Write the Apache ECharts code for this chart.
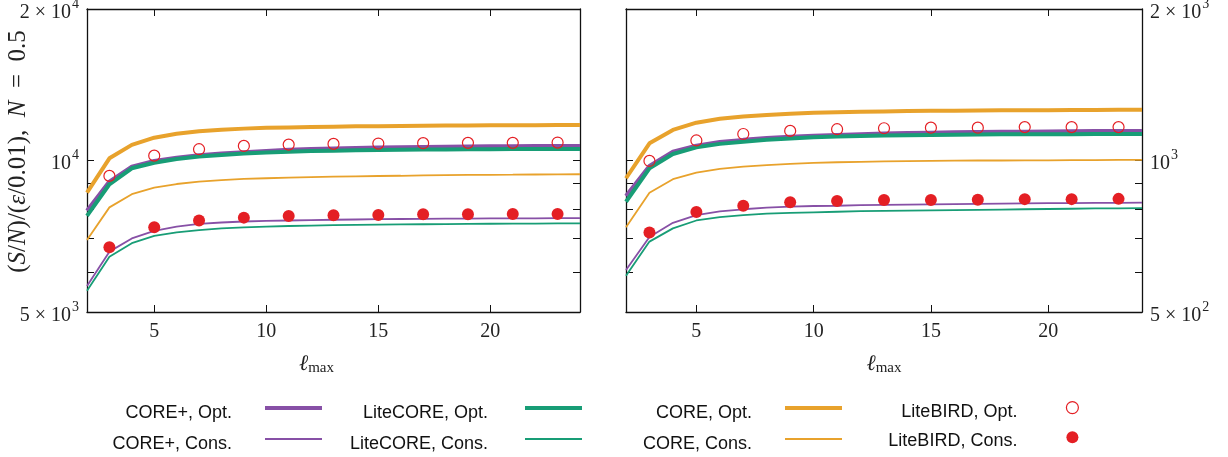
<!DOCTYPE html>
<html>
<head>
<meta charset="utf-8">
<script src="https://cdn.jsdelivr.net/npm/echarts@6/dist/echarts.min.js"></script>
<style>
html, body { margin: 0; padding: 0; background: #fff; }
#chart { width: 1228px; height: 457px; }
</style>
</head>
<body>
<div id="chart"></div>
<script>
// l_max values for the curves and for the LiteBIRD points
var lmax = [2, 3, 4, 5, 6, 7, 8, 9, 10, 11, 12, 13, 14, 15, 16, 17, 18, 19, 20, 21, 22, 23, 24];
var lmaxBird = [3, 5, 7, 9, 11, 13, 15, 17, 19, 21, 23];

// left panel
var corePlusOptL = [7950, 9080, 9720, 9980, 10130, 10240, 10320, 10390, 10450, 10500, 10540, 10570, 10590, 10610, 10625, 10640, 10650, 10660, 10670, 10675, 10680, 10685, 10690];
var corePlusConsL = [5630, 6590, 7000, 7250, 7390, 7480, 7530, 7565, 7585, 7600, 7615, 7625, 7635, 7645, 7652, 7658, 7664, 7668, 7672, 7675, 7677, 7679, 7680];
var liteCoreOptL = [7760, 8970, 9650, 9900, 10070, 10180, 10260, 10320, 10370, 10410, 10440, 10460, 10480, 10495, 10505, 10515, 10520, 10525, 10530, 10535, 10540, 10542, 10545];
var liteCoreConsL = [5510, 6440, 6850, 7080, 7200, 7275, 7330, 7365, 7390, 7410, 7425, 7437, 7447, 7456, 7464, 7470, 7476, 7482, 7487, 7491, 7494, 7497, 7500];
var coreOptL = [8630, 10100, 10740, 11100, 11300, 11430, 11510, 11570, 11610, 11630, 11650, 11670, 11690, 11700, 11710, 11720, 11730, 11740, 11745, 11750, 11755, 11760, 11765];
var coreConsL = [6950, 8070, 8570, 8830, 8980, 9080, 9140, 9190, 9220, 9245, 9265, 9285, 9300, 9315, 9325, 9340, 9350, 9360, 9365, 9372, 9380, 9385, 9390];
var birdOptL = [9320, 10225, 10530, 10690, 10755, 10790, 10805, 10825, 10840, 10840, 10855];
var birdConsL = [6724, 7370, 7596, 7700, 7760, 7785, 7797, 7822, 7822, 7832, 7832];

// right panel
var corePlusOptR = [850, 975, 1041, 1070, 1088, 1099, 1108, 1115, 1120, 1124, 1128, 1131, 1134, 1136, 1138, 1139, 1140, 1141, 1142, 1143, 1144, 1144, 1145];
var corePlusConsR = [606, 705, 752, 779, 792, 800, 806, 810, 812, 813, 815, 816, 817, 818, 819, 820, 821, 822, 823, 823, 824, 824, 825];
var liteCoreOptR = [828, 965, 1030, 1062, 1079, 1090, 1099, 1106, 1112, 1116, 1119, 1121, 1123, 1124, 1125, 1126, 1127, 1127, 1128, 1128, 1129, 1129, 1129];
var liteCoreConsR = [590, 690, 733, 760, 772, 779, 784, 787, 789, 791, 793, 794, 795, 796, 797, 798, 799, 800, 801, 802, 803, 803, 804];
var coreOptR = [922, 1082, 1150, 1189, 1210, 1223, 1232, 1239, 1244, 1247, 1250, 1252, 1254, 1255, 1256, 1257, 1258, 1259, 1259, 1260, 1260, 1261, 1261];
var coreConsR = [737, 863, 918, 946, 962, 972, 979, 985, 989, 992, 994, 996, 997, 998, 999, 1000, 1000, 1001, 1001, 1002, 1002, 1003, 1003];
var birdOptR = [998, 1096, 1129, 1145, 1154, 1159, 1162, 1162, 1165, 1165, 1165];
var birdConsR = [719, 790, 813, 826, 831, 835, 835, 836, 838, 838, 839];

// ticks and labels
var xTicks = [5, 10, 15, 20];
var yTicksL = [5000, 6000, 7000, 8000, 9000, 10000, 20000];
var yTicksR = [500, 600, 700, 800, 900, 1000, 2000];
var yLabelsL = [[5000, '5 × 10', '3'], [10000, '10', '4'], [20000, '2 × 10', '4']];
var yLabelsR = [[500, '5 × 10', '2'], [1000, '10', '3'], [2000, '2 × 10', '3']];

var PURPLE = '#8750a6';
var GREEN = '#189d76';
var ORANGE = '#e8a22c';
var RED = '#e41f24';
var SERIF = '"Liberation Serif", "DejaVu Serif", serif';
var SANS = '"Liberation Sans", Arial, sans-serif';
var THICK = 4;
var THIN = 1.8;

// legend icons: the leading moves only fix the icon box, the sample sits near its top
var ICON_THICK = 'path://M0,0M57,16M0,1h57v4h-57Z';
var ICON_THIN = 'path://M0,0M57,16M0,2.1h57v1.8h-57Z';
var ICON_DOT = 'path://M0,0M12,20M0,6a6,6 0 1,0 12,0a6,6 0 1,0 -12,0Z';

function pairs(xs, ys) {
    return xs.map(function (x, i) { return [x, ys[i]]; });
}

function powLabel(table) {
    return function (v) {
        for (var i = 0; i < table.length; i++) {
            if (Math.abs(v / table[i][0] - 1) < 1e-6) {
                return '{b|' + table[i][1] + '}{s|' + table[i][2] + '}';
            }
        }
        return '';
    };
}

var labelRich = {
    b: { fontFamily: SERIF, fontSize: 20, color: '#222', padding: [7, 0, 0, 0] },
    s: { fontFamily: SERIF, fontSize: 14, color: '#222', padding: [0, 0, 10, 1] }
};

function xAxisFor(grid, pos, labels, shift) {
    return {
        type: 'value', gridIndex: grid, position: pos, min: 2, max: 24,
        splitLine: { show: false },
        axisLine: { show: true, onZero: false, lineStyle: { color: '#111', width: 1.3 } },
        axisTick: { show: true, inside: true, length: 7, customValues: xTicks, lineStyle: { color: '#111', width: 1 } },
        axisLabel: labels ? {
            show: true, customValues: xTicks, margin: 10,
            fontFamily: SERIF, fontSize: 20, color: '#222'
        } : { show: false },
        name: labels ? '{l|ℓ}{m|max}' : '',
        nameLocation: 'middle', nameGap: 40, nameMoveOverlap: false,
        nameTextStyle: {
            padding: [0, shift || 0, 0, 0],
            rich: {
                l: { fontFamily: SERIF, fontStyle: 'italic', fontSize: 22, color: '#222' },
                m: { fontFamily: SERIF, fontSize: 15, color: '#222', padding: [9, 0, 0, 0] }
            }
        }
    };
}

function yAxisFor(grid, pos, lo, hi, ticks, labels) {
    return {
        type: 'log', logBase: 10, gridIndex: grid, position: pos, min: lo, max: hi,
        splitLine: { show: false },
        axisLine: { show: true, lineStyle: { color: '#111', width: 1.3 } },
        axisTick: { show: true, inside: true, length: 7, customValues: ticks, lineStyle: { color: '#111', width: 1 } },
        axisLabel: labels ? {
            show: true, customValues: labels.map(function (r) { return r[0]; }),
            margin: 8, formatter: powLabel(labels), rich: labelRich
        } : { show: false }
    };
}

function line(name, values, xi, yi, color, width) {
    return {
        name: name, type: 'line', xAxisIndex: xi, yAxisIndex: yi,
        data: pairs(lmax, values), symbol: 'none', smooth: false,
        lineStyle: { color: color, width: width }, itemStyle: { color: color },
        z: width > 2 ? 3 : 2
    };
}

function dots(name, values, xi, yi, filled) {
    return {
        name: name, type: 'scatter', xAxisIndex: xi, yAxisIndex: yi,
        data: pairs(lmaxBird, values), symbol: 'circle', symbolSize: filled ? 12 : 11,
        itemStyle: filled
            ? { color: RED, opacity: 1 }
            : { color: 'transparent', borderColor: RED, borderWidth: 1.2, opacity: 1 },
        z: 5
    };
}

var yLeft = yAxisFor(0, 'left', 5000, 20000, yTicksL, yLabelsL);
yLeft.name = '{r|(}{i|S}{r|/}{i|N}{r|)/(}{i|ε}{r|/0.01),  }{i|N}{r|  =  0.5}';
yLeft.nameLocation = 'middle';
yLeft.nameGap = 56;
yLeft.nameRotate = 90;
yLeft.nameMoveOverlap = false;
yLeft.nameTextStyle = {
    padding: [0, 0, 0, 18],
    rich: {
        r: { fontFamily: SERIF, fontSize: 25, color: '#222' },
        i: { fontFamily: SERIF, fontStyle: 'italic', fontSize: 25, color: '#222' }
    }
};

function legendCol(names, colors, rightPx, isDots, gap, top) {
    return {
        orient: 'vertical', align: 'right', right: rightPx, top: top,
        padding: 0, itemGap: isDots ? 9 : 13,
        itemWidth: isDots ? 12 : 57, itemHeight: isDots ? 20 : 16,
        selectedMode: false,
        textStyle: { fontFamily: SANS, fontSize: 18, color: '#111', padding: [0, gap, 0, 0] },
        data: names.map(function (n, i) {
            if (isDots) {
                return {
                    name: n, icon: ICON_DOT,
                    itemStyle: i === 0
                        ? { color: '#fff', borderColor: RED, borderWidth: 1.2, opacity: 1 }
                        : { color: RED, borderWidth: 0, opacity: 1 }
                };
            }
            return {
                name: n, icon: i === 0 ? ICON_THICK : ICON_THIN,
                itemStyle: { color: colors, borderWidth: 0, opacity: 1 }
            };
        })
    };
}

var option = {
    animation: false,
    backgroundColor: '#fff',
    grid: [
        { left: 87, top: 9, width: 493, height: 303, outerBoundsMode: 'none', containLabel: false },
        { left: 626, top: 9, width: 516, height: 303, outerBoundsMode: 'none', containLabel: false }
    ],
    xAxis: [
        xAxisFor(0, 'bottom', true, 34),
        xAxisFor(0, 'top', false),
        xAxisFor(1, 'bottom', true, 0),
        xAxisFor(1, 'top', false)
    ],
    yAxis: [
        yLeft,
        yAxisFor(0, 'right', 5000, 20000, yTicksL, null),
        yAxisFor(1, 'right', 500, 2000, yTicksR, yLabelsR),
        yAxisFor(1, 'left', 500, 2000, yTicksR, null)
    ],
    legend: [
        legendCol(['CORE+, Opt.', 'CORE+, Cons.'], PURPLE, 906, false, 28, 404),
        legendCol(['LiteCORE, Opt.', 'LiteCORE, Cons.'], GREEN, 646, false, 32, 404),
        legendCol(['CORE, Opt.', 'CORE, Cons.'], ORANGE, 386, false, 28, 404),
        legendCol(['LiteBIRD, Opt.', 'LiteBIRD, Cons.'], null, 149, true, 44, 401)
    ],
    series: [
        line('CORE+, Opt.', corePlusOptL, 0, 0, PURPLE, THICK),
        line('LiteCORE, Opt.', liteCoreOptL, 0, 0, GREEN, THICK),
        line('CORE, Opt.', coreOptL, 0, 0, ORANGE, THICK),
        line('CORE+, Cons.', corePlusConsL, 0, 0, PURPLE, THIN),
        line('LiteCORE, Cons.', liteCoreConsL, 0, 0, GREEN, THIN),
        line('CORE, Cons.', coreConsL, 0, 0, ORANGE, THIN),
        dots('LiteBIRD, Opt.', birdOptL, 0, 0, false),
        dots('LiteBIRD, Cons.', birdConsL, 0, 0, true),

        line('CORE+, Opt.', corePlusOptR, 2, 2, PURPLE, THICK),
        line('LiteCORE, Opt.', liteCoreOptR, 2, 2, GREEN, THICK),
        line('CORE, Opt.', coreOptR, 2, 2, ORANGE, THICK),
        line('CORE+, Cons.', corePlusConsR, 2, 2, PURPLE, THIN),
        line('LiteCORE, Cons.', liteCoreConsR, 2, 2, GREEN, THIN),
        line('CORE, Cons.', coreConsR, 2, 2, ORANGE, THIN),
        dots('LiteBIRD, Opt.', birdOptR, 2, 2, false),
        dots('LiteBIRD, Cons.', birdConsR, 2, 2, true)
    ]
};

var chart = echarts.init(document.getElementById('chart'));
chart.setOption(option);
</script>
</body>
</html>
